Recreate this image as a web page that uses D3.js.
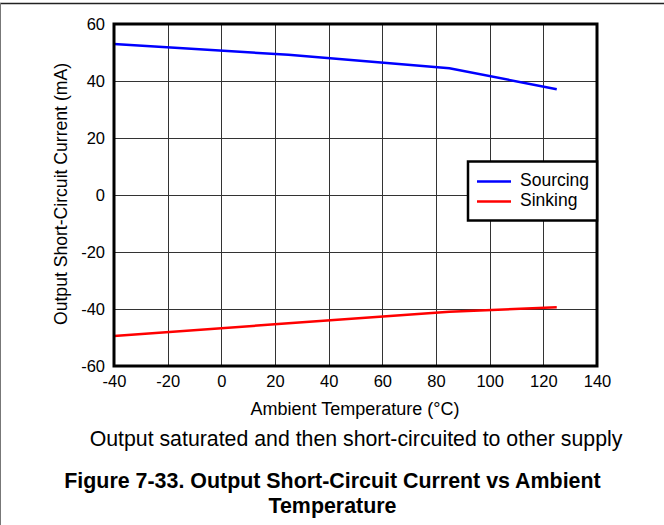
<!DOCTYPE html>
<html><head><meta charset="utf-8">
<script src="https://cdn.jsdelivr.net/npm/d3@7"></script>
<style>body{margin:0;background:#fff}svg{display:block}text{font-family:"Liberation Sans",Arial,sans-serif}</style>
</head><body>
<script>
const sourcingTemp = [-40, 25, 85, 125];
const sourcingVal = [53, 49.2, 44.5, 37.1];
const sinkingTemp = [-40, 25, 85, 125];
const sinkingVal = [-49.5, -45, -41, -39.4];
const xTicks = [-40, -20, 0, 20, 40, 60, 80, 100, 120, 140];
const yTicks = [-60, -40, -20, 0, 20, 40, 60];
const seriesNames = ["Sourcing", "Sinking"];
const seriesColors = ["#0000ff", "#ff0000"];

const W = 664, H = 525;
const FF = "Liberation Sans, Arial, sans-serif";
const svg = d3.select("body").append("svg").attr("width", W).attr("height", H);
const m = {l: 114, r: 597, t: 24, b: 366};
const x = d3.scaleLinear().domain([-40, 140]).range([m.l, m.r]);
const y = d3.scaleLinear().domain([-60, 60]).range([m.b, m.t]);

// outer frame
svg.append("line").attr("x1", 0).attr("x2", W).attr("y1", 3.5).attr("y2", 3.5).attr("stroke", "#222").attr("stroke-width", 1.5);
svg.append("line").attr("x1", 0.5).attr("x2", 0.5).attr("y1", 3).attr("y2", H).attr("stroke", "#777").attr("stroke-width", 1);

// grid
svg.append("g").selectAll("line").data(xTicks.slice(1, -1)).join("line")
  .attr("x1", d => Math.round(x(d)) + 0.5).attr("x2", d => Math.round(x(d)) + 0.5)
  .attr("y1", m.t).attr("y2", m.b).attr("stroke", "#333").attr("stroke-width", 1);
svg.append("g").selectAll("line").data(yTicks.slice(1, -1)).join("line")
  .attr("y1", d => Math.round(y(d)) + 0.5).attr("y2", d => Math.round(y(d)) + 0.5)
  .attr("x1", m.l).attr("x2", m.r).attr("stroke", "#333").attr("stroke-width", 1);

// axes (labels only)
const fmt = d => String(d);
const xAxis = d3.axisBottom(x).tickValues(xTicks).tickSize(0).tickPadding(9).tickFormat(fmt);
const gx = svg.append("g").attr("transform", `translate(0,${m.b})`).call(xAxis);
gx.select(".domain").remove();
gx.attr("font-size", 16.5).attr("font-family", FF);
gx.selectAll("text").attr("fill", "#000");
const yAxis = d3.axisLeft(y).tickValues(yTicks).tickSize(0).tickPadding(9).tickFormat(fmt);
const gy = svg.append("g").attr("transform", `translate(${m.l},0)`).call(yAxis);
gy.select(".domain").remove();
gy.attr("font-size", 16.5).attr("font-family", FF);
gy.selectAll("text").attr("fill", "#000");

// lines
const line = d3.line().x(d => x(d[0])).y(d => y(d[1]));
const series = [
  d3.zip(sourcingTemp, sourcingVal),
  d3.zip(sinkingTemp, sinkingVal)
];
series.forEach((s, i) => {
  svg.append("path").datum(s).attr("d", line).attr("fill", "none")
    .attr("stroke", seriesColors[i]).attr("stroke-width", 2.5);
});

// plot border
svg.append("rect").attr("x", m.l).attr("y", m.t).attr("width", m.r - m.l).attr("height", m.b - m.t)
  .attr("fill", "none").attr("stroke", "#000").attr("stroke-width", 3);

// legend
const lg = svg.append("g");
lg.append("rect").attr("x", 468).attr("y", 161.5).attr("width", 129).attr("height", 59)
  .attr("fill", "#fff").attr("stroke", "#000").attr("stroke-width", 2.5);
seriesNames.forEach((n, i) => {
  const yy = 181.5 + i * 20;
  lg.append("line").attr("x1", 477).attr("x2", 511).attr("y1", yy).attr("y2", yy)
    .attr("stroke", seriesColors[i]).attr("stroke-width", 2.5);
  lg.append("text").attr("x", 520).attr("y", yy + 4.5).attr("font-size", 17.5).text(n);
});

// axis titles
svg.append("text").attr("x", 355).attr("y", 415).attr("text-anchor", "middle").attr("font-size", 18)
  .text("Ambient Temperature (°C)");
svg.append("text").attr("transform", "translate(67,194) rotate(-90)").attr("text-anchor", "middle").attr("font-size", 17.6)
  .text("Output Short-Circuit Current (mA)");

// captions
svg.append("text").attr("x", 356).attr("y", 446).attr("text-anchor", "middle").attr("font-size", 21.3)
  .text("Output saturated and then short-circuited to other supply");
svg.append("text").attr("x", 332.5).attr("y", 488).attr("text-anchor", "middle").attr("font-size", 21.4).attr("font-weight", "bold")
  .text("Figure 7-33. Output Short-Circuit Current vs Ambient");
svg.append("text").attr("x", 332.5).attr("y", 513).attr("text-anchor", "middle").attr("font-size", 21.4).attr("font-weight", "bold")
  .text("Temperature");
</script>
</body></html>
